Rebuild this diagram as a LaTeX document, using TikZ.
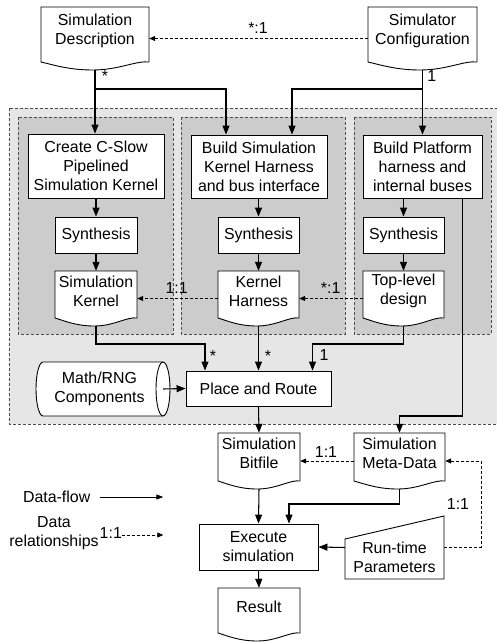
\documentclass[tikz,border=0pt]{standalone}
\usepackage{fontspec}
\setmainfont{Liberation Sans}
\usetikzlibrary{arrows.meta,calc}

\definecolor{outerfill}{RGB}{230,230,230}
\definecolor{innerfill}{RGB}{204,204,204}

\tikzset{
  every node/.style={font=\fontsize{15.9}{19}\selectfont},
  bx/.style={draw, fill=white, line width=0.9pt, inner sep=0pt, align=center},
  flow/.style={line width=1.05pt, -{Triangle[length=9pt,width=7pt]}},
  rel/.style={line width=0.8pt, dash pattern=on 3pt off 2pt, -{Triangle[length=6pt,width=5pt]}},
  lbl/.style={inner sep=0pt},
  region/.style={draw=black!70, line width=0.8pt, dash pattern=on 3pt off 2pt},
  docline/.style={draw, fill=white, line width=0.9pt},
}

% document shape: #1 name, #2 xl, #3 xr, #4 ytop, #5 yside-bottom, #6 text
\newcommand\mydoc[6]{%
  \pgfmathsetmacro\dW{#3-#2}%
  \draw[docline] (#2,-#4) -- (#3,-#4) -- (#3,-#5)
    .. controls ({#3-0.12*\dW},{-#5+1.5}) and ({#2+0.72*\dW},{-#5-8}) .. ({#2+0.48*\dW},{-#5-8})
    .. controls ({#2+0.26*\dW},{-#5-8}) and ({#2+0.12*\dW},{-#5-3}) .. (#2,-#5) -- cycle;
  \node[inner sep=0pt, minimum width={\dW*1pt}, minimum height={(#5+8-#4)*1pt},
        label={[align=center, yshift=7.5pt]center:{#6}}] (#1) at ({(#2+#3)/2},{-(#4+#5+8)/2}) {};
}

\begin{document}
\begin{tikzpicture}[x=1pt,y=1pt]
\useasboundingbox (0,0) rectangle (497,-642);

% regions
\draw[region, fill=outerfill] (9,-108) rectangle (505,-424);
\draw[region, fill=innerfill] (18,-117) rectangle (173,-334);
\draw[region, fill=innerfill] (181,-117) rectangle (345,-334);
\draw[region, fill=innerfill] (354,-117) rectangle (491,-334);

% top documents
\mydoc{simdesc}{41}{149}{7}{62}{Simulation\\Description}
\mydoc{simcfg}{368}{477}{7}{62}{Simulator\\Configuration}

% build boxes
\node[bx, minimum width=136pt, minimum height=64pt] (create) at (96,-166) {Create C-Slow\\Pipelined\\Simulation Kernel};
\node[bx, minimum width=136pt, minimum height=63pt] (buildsim) at (259,-166.5) {Build Simulation\\Kernel Harness\\and bus interface};
\node[bx, minimum width=119pt, minimum height=63pt] (buildplat) at (422.5,-166.5) {Build Platform\\harness and\\internal buses};

% synthesis
\node[bx, minimum width=82pt, minimum height=36pt] (syn1) at (96,-235) {Synthesis};
\node[bx, minimum width=81pt, minimum height=36pt] (syn2) at (258.5,-235) {Synthesis};
\node[bx, minimum width=81pt, minimum height=36pt] (syn3) at (403.5,-235) {Synthesis};

% result documents of synthesis
\mydoc{simkernel}{55}{137}{271}{318}{Simulation\\Kernel}
\mydoc{harness}{218}{299}{271}{318}{Kernel\\Harness}
\mydoc{toplevel}{363}{444}{271}{318}{Top-level\\design}

% math/rng cylinder
\draw[docline] (43,-362) -- (163,-362) arc[start angle=90, end angle=-90, x radius=7, y radius=27]
  -- (43,-416) arc[start angle=270, end angle=90, x radius=7, y radius=27] -- cycle;
\draw[line width=0.9pt] (163,-362) arc[start angle=90, end angle=270, x radius=7, y radius=27];
\node[inner sep=0pt, minimum width=127pt, minimum height=54pt, align=center] (mathrng) at (99.5,-389) {Math/RNG\\Components};

% place and route
\node[bx, minimum width=145pt, minimum height=35pt] (pandr) at (258.5,-388.5) {Place and Route};

% lower documents
\mydoc{bitfile}{218}{300}{433}{481}{Simulation\\Bitfile}
\mydoc{metadata}{354}{445}{433}{481}{Simulation\\Meta-Data}
\node[bx, minimum width=119pt, minimum height=46pt] (execute) at (258.5,-547) {Execute\\simulation};
\mydoc{result}{218}{300}{588}{633}{Result}

% run-time parameters
\draw[docline] (345,-539) -- (444,-516) -- (444,-579) -- (345,-579) -- cycle;
\node[inner sep=0pt, minimum width=99pt, minimum height=63pt,
      label={[align=center, yshift=-10pt]center:{Run-time\\Parameters}}] (runtime) at (394.5,-547.5) {};

% ---------- connectors ----------
\draw[rel] (simcfg.west) -- (simdesc.west -| simdesc.east);
\node[lbl] at (258,-28.3) {*:1};

\coordinate (j1) at (95,-89);
\draw[flow] (simdesc.south) -- (create.north -| simdesc.south);
\draw[flow] (j1) -| ([xshift=-33pt]buildsim.north);
\node[lbl] at (105,-76) {*};

\coordinate (j2) at (422.5,-89);
\draw[flow] (simcfg.south) -- (buildplat.north);
\draw[flow] (j2) -| ([xshift=33pt]buildsim.north);
\node[lbl] at (431.7,-76) {1};

\draw[flow] (create.south) -- (syn1.north);
\draw[flow] (buildsim.south -| syn2.north) -- (syn2.north);
\draw[flow] (buildplat.south -| syn3.north) -- (syn3.north);

\draw[flow] (syn1.south) -- (simkernel.north);
\draw[flow] (syn2.south) -- (harness.north);
\draw[flow] (syn3.south) -- (toplevel.north);

\draw[rel] (toplevel.west) -- (harness.east);
\node[lbl] at (330.7,-288) {*:1};
\draw[rel] (harness.west) -- (simkernel.east);
\node[lbl] at (176.7,-288) {1:1};

\coordinate (j3) at (96,-344);
\coordinate (j4) at (403.5,-344);
\draw[flow] (simkernel.south) -- (j3) -| ([xshift=-53.5pt]pandr.north);
\node[lbl] at (213,-356) {*};
\draw[flow] (harness.south) -- (pandr.north);
\node[lbl] at (268,-356) {*};
\draw[flow] (toplevel.south) -- (j4) -| ([xshift=54pt]pandr.north);
\node[lbl] at (324,-355) {1};

\draw[flow] (mathrng.east) -- (pandr.west);

\coordinate (j5) at (462.5,-416);
\draw[flow] ([xshift=40pt]buildplat.south) -- (j5) -| (metadata.north);

\draw[flow] (pandr.south) -- (bitfile.north);

\draw[rel] (metadata.west) -- (bitfile.east);
\node[lbl] at (326,-451.7) {1:1};

\coordinate (j6) at (481,-547.5);
\draw[rel] (runtime.east) -- (j6) |- (metadata.east);
\node[lbl] at (458,-504) {1:1};

\coordinate (j7) at (399.5,-504);
\draw[flow] (metadata.south) -- (j7) -| ([xshift=30.5pt]execute.north);
\draw[flow] (bitfile.south) -- (execute.north);
\draw[flow] (runtime.west) -- (execute.east);
\draw[flow] (execute.south) -- (result.north);

% legend
\node[lbl] (lflow) at (56.7,-496.7) {Data-flow};
\coordinate (lf1) at (100,-497);
\coordinate (lf2) at (163.3,-497);
\draw[flow, line width=0.9pt, -{Triangle[length=7pt,width=5pt]}] (lf1) -- (lf2);

\node[lbl, align=center] (lrel) at (54,-533.5) {Data\\relationships};
\node[lbl] at (110.8,-533.3) {1:1};
\coordinate (lr1) at (121.7,-535);
\coordinate (lr2) at (163.3,-535);
\draw[rel] (lr1) -- (lr2);
\end{tikzpicture}
\end{document}
